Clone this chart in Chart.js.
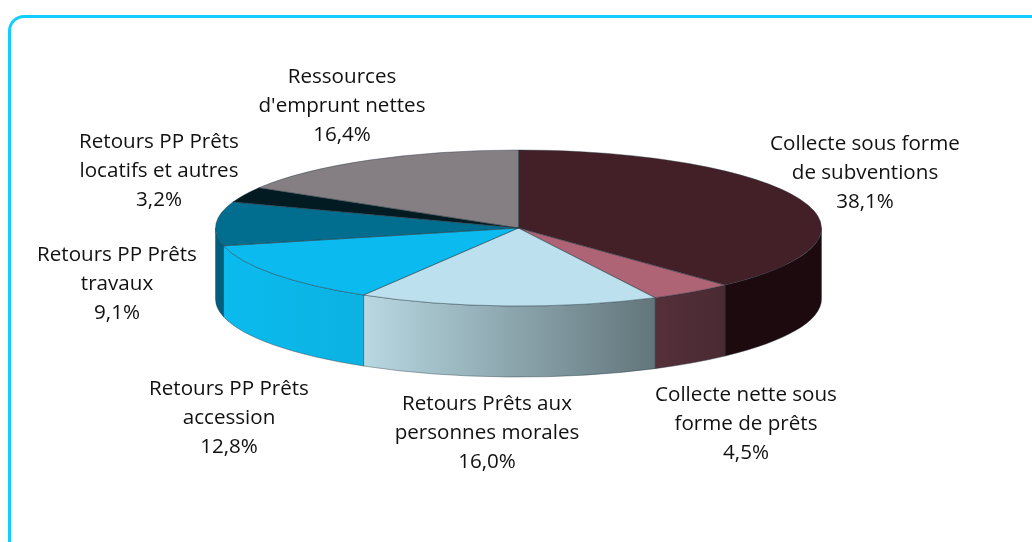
<!DOCTYPE html>
<html>
<head>
<meta charset="utf-8">
<title>Répartition des ressources</title>
<script src="https://cdn.jsdelivr.net/npm/chart.js@4/dist/chart.umd.min.js"></script>
<style>
    html, body { margin: 0; padding: 0; background: #fff; }
    #wrap { position: relative; width: 1032px; height: 542px; overflow: hidden; }
    #frame {
        position: absolute; left: 8px; top: 15px; right: 0; bottom: 0;
        border-top: 3px solid #14cdff; border-left: 3px solid #14cdff;
        border-top-left-radius: 16px;
    }
    canvas { position: absolute; left: 0; top: 0; }
</style>
</head>
<body>
<div id="wrap">
    <div id="frame"></div>
    <canvas id="chart" width="1032" height="542"></canvas>
</div>
<script>
const categories = [
    ['Collecte sous forme', 'de subventions'],
    ['Collecte nette sous', 'forme de prêts'],
    ['Retours Prêts aux', 'personnes morales'],
    ['Retours PP Prêts', 'accession'],
    ['Retours PP Prêts', 'travaux'],
    ['Retours PP Prêts', 'locatifs et autres'],
    ['Ressources', "d'emprunt nettes"],
];
const values = [38.1, 4.5, 16.0, 12.8, 9.1, 3.2, 16.4];

const topColors = ['#431f27', '#ae6475', '#bce0ee', '#0bbbf0', '#016e8f', '#021b22', '#857e82'];
const sideFrom = ['#1c0a0e', '#55303a', '#b8d8e2', '#0bbbee', '#005f7c', '#021b22', '#857e82'];
const sideTo = ['#1c0a0e', '#4a2a32', '#62757b', '#0bb2e2', '#005f7c', '#021b22', '#857e82'];

// label centres, in pixels of the page
const labelX = [865, 746, 487, 229, 117, 159, 342];
const labelY = [144, 395, 404, 389, 255, 142, 77];
const lineHeight = 29;

// the flattened disc
const center = { x: 518.5, y: 228 };
const radiusX = 303;
const radiusY = 78;
const depth = 71;

const outlineColor = 'rgba(35, 55, 65, 0.6)';

function visibleRange(arc) {
    const from = Math.max(arc.startAngle, 0);
    const to = Math.min(arc.endAngle, Math.PI);
    return from < to ? [from, to] : null;
}

const tiltedPie = {
    id: 'tiltedPie',
    beforeDatasetsDraw(chart) {
        const ctx = chart.ctx;
        const arcs = chart.getDatasetMeta(0).data;

        // side wall first, the disc goes over it
        arcs.forEach((arc, i) => {
            const range = visibleRange(arc);
            if (!range) return;
            const x0 = center.x + radiusX * Math.cos(range[1]);
            const x1 = center.x + radiusX * Math.cos(range[0]);
            const grad = ctx.createLinearGradient(x0, 0, x1, 0);
            grad.addColorStop(0, sideFrom[i]);
            grad.addColorStop(1, sideTo[i]);
            ctx.beginPath();
            ctx.ellipse(center.x, center.y, radiusX, radiusY, 0, range[0], range[1]);
            ctx.ellipse(center.x, center.y + depth, radiusX, radiusY, 0, range[1], range[0], true);
            ctx.closePath();
            ctx.fillStyle = grad;
            ctx.fill();
            ctx.strokeStyle = outlineColor;
            ctx.lineWidth = 0.7;
            ctx.stroke();
        });

        const arc = arcs[0];
        ctx.save();
        ctx.translate(center.x, center.y);
        ctx.scale(radiusX / arc.outerRadius, radiusY / arc.outerRadius);
        ctx.translate(-arc.x, -arc.y);
    },
    afterDatasetsDraw(chart) {
        const ctx = chart.ctx;
        ctx.restore();

        chart.getDatasetMeta(0).data.forEach((arc) => {
            ctx.beginPath();
            ctx.moveTo(center.x, center.y);
            ctx.ellipse(center.x, center.y, radiusX, radiusY, 0, arc.startAngle, arc.endAngle);
            ctx.closePath();
            ctx.strokeStyle = outlineColor;
            ctx.lineWidth = 0.7;
            ctx.stroke();
        });

        ctx.save();
        ctx.font = '20.6px "Open Sans"';
        ctx.fillStyle = '#111';
        ctx.textAlign = 'center';
        ctx.textBaseline = 'middle';
        categories.forEach((lines, i) => {
            const text = lines.concat(values[i].toFixed(1).replace('.', ',') + '%');
            text.forEach((line, j) => {
                ctx.fillText(line, labelX[i], labelY[i] + j * lineHeight);
            });
        });
        ctx.restore();
    },
};

new Chart(document.getElementById('chart'), {
    type: 'pie',
    data: {
        labels: categories,
        datasets: [{
            data: values,
            backgroundColor: topColors,
            borderWidth: 0,
            clip: false,
        }],
    },
    options: {
        responsive: false,
        animation: false,
        events: [],
        plugins: {
            legend: { display: false },
            tooltip: { enabled: false },
        },
    },
    plugins: [tiltedPie],
});
</script>
</body>
</html>
